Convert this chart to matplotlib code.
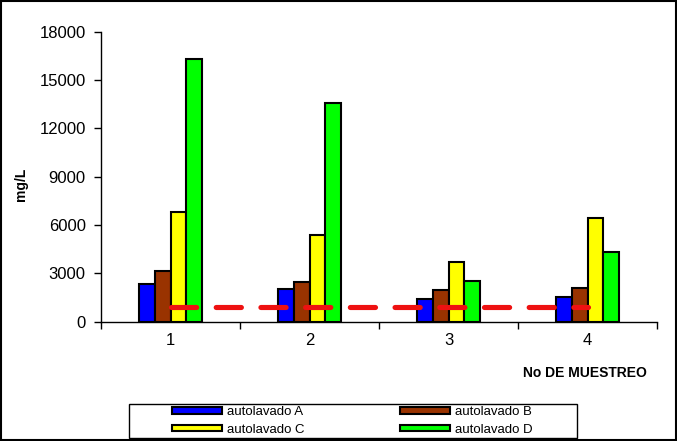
import matplotlib
matplotlib.use("Agg")
import matplotlib.pyplot as plt
import numpy as np
from matplotlib.patches import Rectangle

plt.rcParams['font.family'] = ['Liberation Sans', 'DejaVu Sans']

categories = ["1", "2", "3", "4"]
series_names = ["autolavado A", "autolavado B", "autolavado C", "autolavado D"]
values_A = [2350, 2000, 1430, 1500]
values_B = [3120, 2480, 1970, 2060]
values_C = [6790, 5400, 3730, 6440]
values_D = [16340, 13580, 2490, 4300]
limit_value = [880, 880, 880, 880]
colors = ["#0000FF", "#993300", "#FFFF00", "#00FF00"]

W, H = 677, 441
fig = plt.figure(figsize=(W / 100, H / 100), dpi=100)
ax = fig.add_axes([101 / W, 1 - 321.5 / H, 556 / W, 289.5 / H])

x = np.arange(len(categories)) + 0.5
w = 0.1133
all_vals = [values_A, values_B, values_C, values_D]
handles = []
for i, (vals, c, name) in enumerate(zip(all_vals, colors, series_names)):
    b = ax.bar(x + (i - 1.5) * w, vals, width=w, color=c, edgecolor="black",
               linewidth=1.5, label=name, zorder=2)
    handles.append(b)

ax.plot(x, limit_value, color="#EE1111", linewidth=3.7, dashes=(4.9, 3.8),
        dash_capstyle="round", zorder=3)

ax.set_xlim(0, 4)
ax.set_ylim(0, 18000)
ax.set_yticks(np.arange(0, 18001, 3000))
ax.tick_params(axis='y', labelsize=12, direction='out', length=5, width=1, pad=6)
ax.set_xticks([0, 1, 2, 3, 4])
ax.set_xticklabels([])
ax.set_xticks(x, minor=True)
ax.set_xticklabels(categories, minor=True)
ax.tick_params(axis='x', which='major', direction='out', length=5, width=1)
ax.tick_params(axis='x', which='minor', length=0, labelsize=12, pad=8.5)
for s in ["top", "right"]:
    ax.spines[s].set_visible(False)
for s in ["left", "bottom"]:
    ax.spines[s].set_linewidth(1)

ax.set_ylabel("mg/L", fontsize=10, fontweight="bold")
ax.yaxis.set_label_coords((21 - 101) / 556, (321.5 - 184.5) / 289.5)
ax.yaxis.label.set_verticalalignment("center")

fig.text(647 / W, 1 - 373 / H, "No DE MUESTREO", fontsize=10, fontweight="bold",
         ha="right", va="center")

leg_kw = dict(loc="center left", ncol=1, fontsize=9.5, frameon=False,
              handlelength=3.79, handleheight=0.38, borderpad=0,
              labelspacing=0.4, handletextpad=0.38, borderaxespad=0)
leg1 = fig.legend([handles[0], handles[2]], [series_names[0], series_names[2]],
                  bbox_to_anchor=(172 / W, 1 - 421 / H), **leg_kw)
leg2 = fig.legend([handles[1], handles[3]], [series_names[1], series_names[3]],
                  bbox_to_anchor=(400 / W, 1 - 421 / H), **leg_kw)

fig.patches.append(Rectangle((129 / W, 1 - 438 / H), 448 / W, 34 / H,
                             transform=fig.transFigure, fill=False,
                             edgecolor="black", linewidth=1))
fig.patches.append(Rectangle((0.001, 0.002), 0.997, 0.996, transform=fig.transFigure,
                             fill=False, edgecolor="black", linewidth=1.5))

fig.savefig("out.png", dpi=100)
